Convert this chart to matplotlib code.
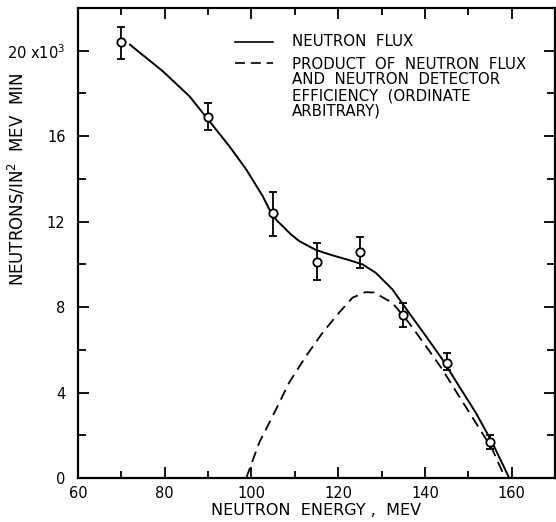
import matplotlib

matplotlib.use("Agg")
import matplotlib.pyplot as plt  # noqa: E402
from matplotlib.ticker import FixedLocator, MultipleLocator  # noqa: E402

# measured points with error bars (flux in units of 10^3)
energy = [70, 90, 105, 115, 125, 135, 145, 155]
flux = [20.4, 16.9, 12.4, 10.1, 10.6, 7.65, 5.4, 1.7]
flux_lo = [19.6, 16.3, 11.35, 9.25, 9.85, 7.05, 5.05, 1.35]
flux_hi = [21.1, 17.55, 13.4, 11.0, 11.3, 8.2, 5.85, 2.0]

# smooth neutron flux curve
flux_curve_e = [72.0, 79.6, 85.7, 90.3, 94.9, 98.8, 102.6, 104.8, 106.0, 107.2,
                109.0, 111.0, 114.9, 118.7, 122.5, 125.6, 128.7, 132.5, 136.3,
                140.2, 144.0, 147.8, 151.7, 155.5, 159.3]
flux_curve = [20.28, 19.03, 17.87, 16.7, 15.53, 14.44, 13.19, 12.3, 12.02, 11.79,
              11.42, 11.09, 10.67, 10.42, 10.2, 10.0, 9.6, 8.83, 7.74,
              6.65, 5.56, 4.32, 3.07, 1.67, 0.06]

# flux x detector efficiency (arbitrary ordinate)
prod_e = [98.8, 101.8, 104.9, 108.7, 112.6, 116.4, 120.2, 123.3, 126.3, 128.3,
          132.5, 136.3, 140.2, 144.0, 147.8, 151.7, 155.5, 158.5]
prod = [0.0, 1.66, 2.9, 4.47, 5.71, 6.8, 7.74, 8.44, 8.7, 8.68,
        8.2, 7.27, 6.18, 5.09, 3.85, 2.6, 1.36, 0.0]

ytick_vals = [0, 4, 8, 12, 16, 20]
ytick_labels = ["0", "4", "8", "12", "16", r"20 x10$^{3}$"]

plt.rcParams["font.family"] = "DejaVu Sans"

DASH = (0, (6, 3.5))

fig = plt.figure(figsize=(5.56, 5.22), dpi=100)
ax = fig.add_axes([0.1403, 0.0843, 0.8579, 0.9004])

ax.plot(flux_curve_e, flux_curve, color="black", lw=1.4, solid_joinstyle="round")
ax.plot(prod_e, prod, color="black", lw=1.3, linestyle=DASH)

yerr = [[f - lo for f, lo in zip(flux, flux_lo)],
        [hi - f for f, hi in zip(flux, flux_hi)]]
ax.errorbar(energy, flux, yerr=yerr, fmt="o", ms=6, mfc="white", mec="black",
            mew=1.3, ecolor="black", elinewidth=1.3, capsize=3, capthick=1.3,
            zorder=3)

ax.set_xlim(60, 170)
ax.set_ylim(0, 22)
ax.xaxis.set_major_locator(FixedLocator([60, 80, 100, 120, 140, 160]))
ax.xaxis.set_minor_locator(MultipleLocator(10))
ax.yaxis.set_major_locator(FixedLocator(ytick_vals))
ax.yaxis.set_minor_locator(MultipleLocator(2))
ax.set_yticklabels(ytick_labels)

ax.tick_params(which="both", direction="in", top=True, right=True,
               width=1.3, labelsize=10.5)
ax.tick_params(axis="x", which="major", length=8, pad=6)
ax.tick_params(axis="x", which="minor", length=5)
ax.tick_params(axis="y", which="major", length=8, pad=9)
ax.tick_params(axis="y", which="minor", length=6)
for spine in ax.spines.values():
    spine.set_linewidth(1.6)

ax.set_xlabel("NEUTRON  ENERGY ,  MEV", fontsize=11.5, labelpad=1)
ax.set_ylabel(r"NEUTRONS/IN$^{2}$  MEV  MIN", fontsize=12)
ax.yaxis.set_label_coords(-0.105, 0.635)

# key block in the upper middle
ax.plot([0.329, 0.409], [0.928, 0.928], transform=ax.transAxes,
        color="black", lw=1.2)
ax.plot([0.329, 0.409], [0.883, 0.883], transform=ax.transAxes,
        color="black", lw=1.2, linestyle=DASH)
ax.text(0.449, 0.928, "NEUTRON  FLUX", transform=ax.transAxes,
        va="center", ha="left", fontsize=10.8)
ax.text(0.449, 0.896,
        "PRODUCT  OF  NEUTRON  FLUX\nAND  NEUTRON  DETECTOR\n"
        "EFFICIENCY  (ORDINATE\nARBITRARY)",
        transform=ax.transAxes, va="top", ha="left", fontsize=10.8,
        linespacing=1.05)

fig.savefig("out.png", dpi=100)
plt.close(fig)
